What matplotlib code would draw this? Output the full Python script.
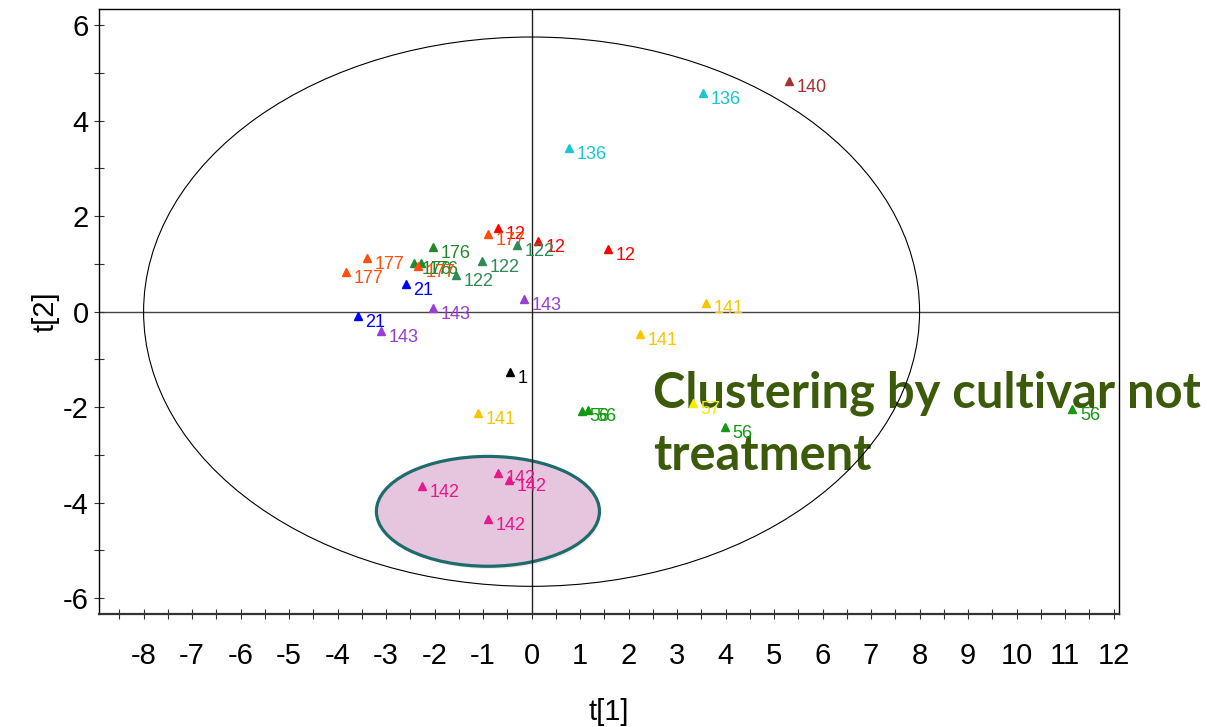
import matplotlib
matplotlib.use("Agg")
import matplotlib.pyplot as plt
from matplotlib.patches import Ellipse
from matplotlib.ticker import MultipleLocator

# score plot data: t[1], t[2] and cultivar of each sample
t1 = [-0.69, -0.89, 0.14, -0.30, -2.03, -3.40, -1.02, -2.42, -2.28, -2.35,
      -1.56, -3.82, -2.59, -0.15, -2.03, -3.58, -3.11, -0.44, -1.10, 1.03,
      1.17, 3.33, 3.99, 11.15, -0.69, -0.47, -2.26, -0.89, 3.53, 5.30,
      0.78, 1.58, 3.60, 2.24]
t2 = [1.75, 1.63, 1.48, 1.39, 1.35, 1.12, 1.06, 1.02, 1.01, 0.96,
      0.77, 0.83, 0.58, 0.27, 0.08, -0.09, -0.40, -1.26, -2.12, -2.07,
      -2.06, -1.92, -2.41, -2.04, -3.37, -3.52, -3.66, -4.34, 4.57, 4.83,
      3.42, 1.31, 0.19, -0.47]
cultivar = ["12", "177", "12", "122", "176", "177", "122", "176", "176", "177",
            "122", "177", "21", "143", "143", "21", "143", "1", "141", "56",
            "56", "57", "56", "56", "142", "142", "142", "142", "136", "140",
            "136", "12", "141", "141"]

colors = {
    "12": "#ff0000", "177": "#ff4d0a", "176": "#23892b", "122": "#2e8b57",
    "21": "#0000ff", "143": "#9b3fd4", "1": "#000000", "141": "#f7c600",
    "57": "#f5ee00", "56": "#119a11", "142": "#e8178a", "136": "#17c9cf",
    "140": "#a83232",
}

# Hotelling T2 ellipse semi-axes
t2_a, t2_b = 8.0, 5.75
# highlighted cultivar group
hl_center, hl_width, hl_height = (-0.90, -4.18), 4.60, 2.30

note_lines = ["Clustering by cultivar not", "treatment"]

plt.rcParams["font.family"] = ["Liberation Sans", "DejaVu Sans"]
plt.rcParams["axes.unicode_minus"] = False

fig = plt.figure(figsize=(12.07, 7.27), dpi=100)
ax = fig.add_axes([0.0820, 0.1554, 0.8454, 0.8318])
ax.set_xlim(-8.92, 12.12)
ax.set_ylim(-6.33, 6.33)

# group highlight with a faint shadow
ax.add_patch(Ellipse((hl_center[0] + 0.04, hl_center[1] - 0.06), hl_width, hl_height,
                     facecolor="#000000", edgecolor="none", alpha=0.07, zorder=0.4))
ax.add_patch(Ellipse(hl_center, hl_width, hl_height, facecolor="#e6c6df",
                     edgecolor="#1d6b6b", linewidth=2.3, zorder=0.5))

ax.axhline(0, color="#444444", linewidth=1.0, zorder=1)
ax.axvline(0, color="#222222", linewidth=1.0, zorder=1)

ax.add_patch(Ellipse((0, 0), 2 * t2_a, 2 * t2_b, facecolor="none",
                     edgecolor="black", linewidth=0.8, zorder=2))

for x, y, c in zip(t1, t2, cultivar):
    ax.plot(x, y, marker="^", markersize=6, color=colors[c], linestyle="none", zorder=3)
    ax.annotate(c, (x, y), xytext=(5.5, -4.5), textcoords="offset points",
                ha="left", va="center", fontsize=13, color=colors[c], zorder=3)

# overlay note, fitted to its width
note_x = 653 / 1207
note_size = 30
for i, (line, base) in enumerate(zip(note_lines, [407, 470])):
    txt = ax.text(note_x, 1 - base / 727, line, transform=fig.transFigure,
                  fontsize=30, fontweight="bold", family="Lato", color="#3b5a0a",
                  ha="left", va="baseline", zorder=1.8, clip_on=False)
    if i == 0:
        fig.canvas.draw()
        w = txt.get_window_extent().width
        note_size = 30 * 547 / w
    txt.set_fontsize(note_size)

ax.xaxis.set_major_locator(MultipleLocator(1))
ax.xaxis.set_minor_locator(MultipleLocator(0.5))
ax.yaxis.set_major_locator(MultipleLocator(2))
ax.yaxis.set_minor_locator(MultipleLocator(1))
ax.tick_params(axis="both", which="both", direction="inout", length=7,
               width=0.8, color="#333333")
ax.tick_params(axis="x", labelsize=21, pad=17)
ax.tick_params(axis="y", labelsize=21, pad=4)

for s in ax.spines.values():
    s.set_linewidth(1.0)
    s.set_color("black")
ax.spines["bottom"].set_linewidth(1.6)
ax.spines["bottom"].set_color("#333333")

ax.set_xlabel("t[1]", fontsize=21, labelpad=20)
ax.set_ylabel("t[2]", fontsize=21, labelpad=2)

fig.savefig("out.png", dpi=100)
